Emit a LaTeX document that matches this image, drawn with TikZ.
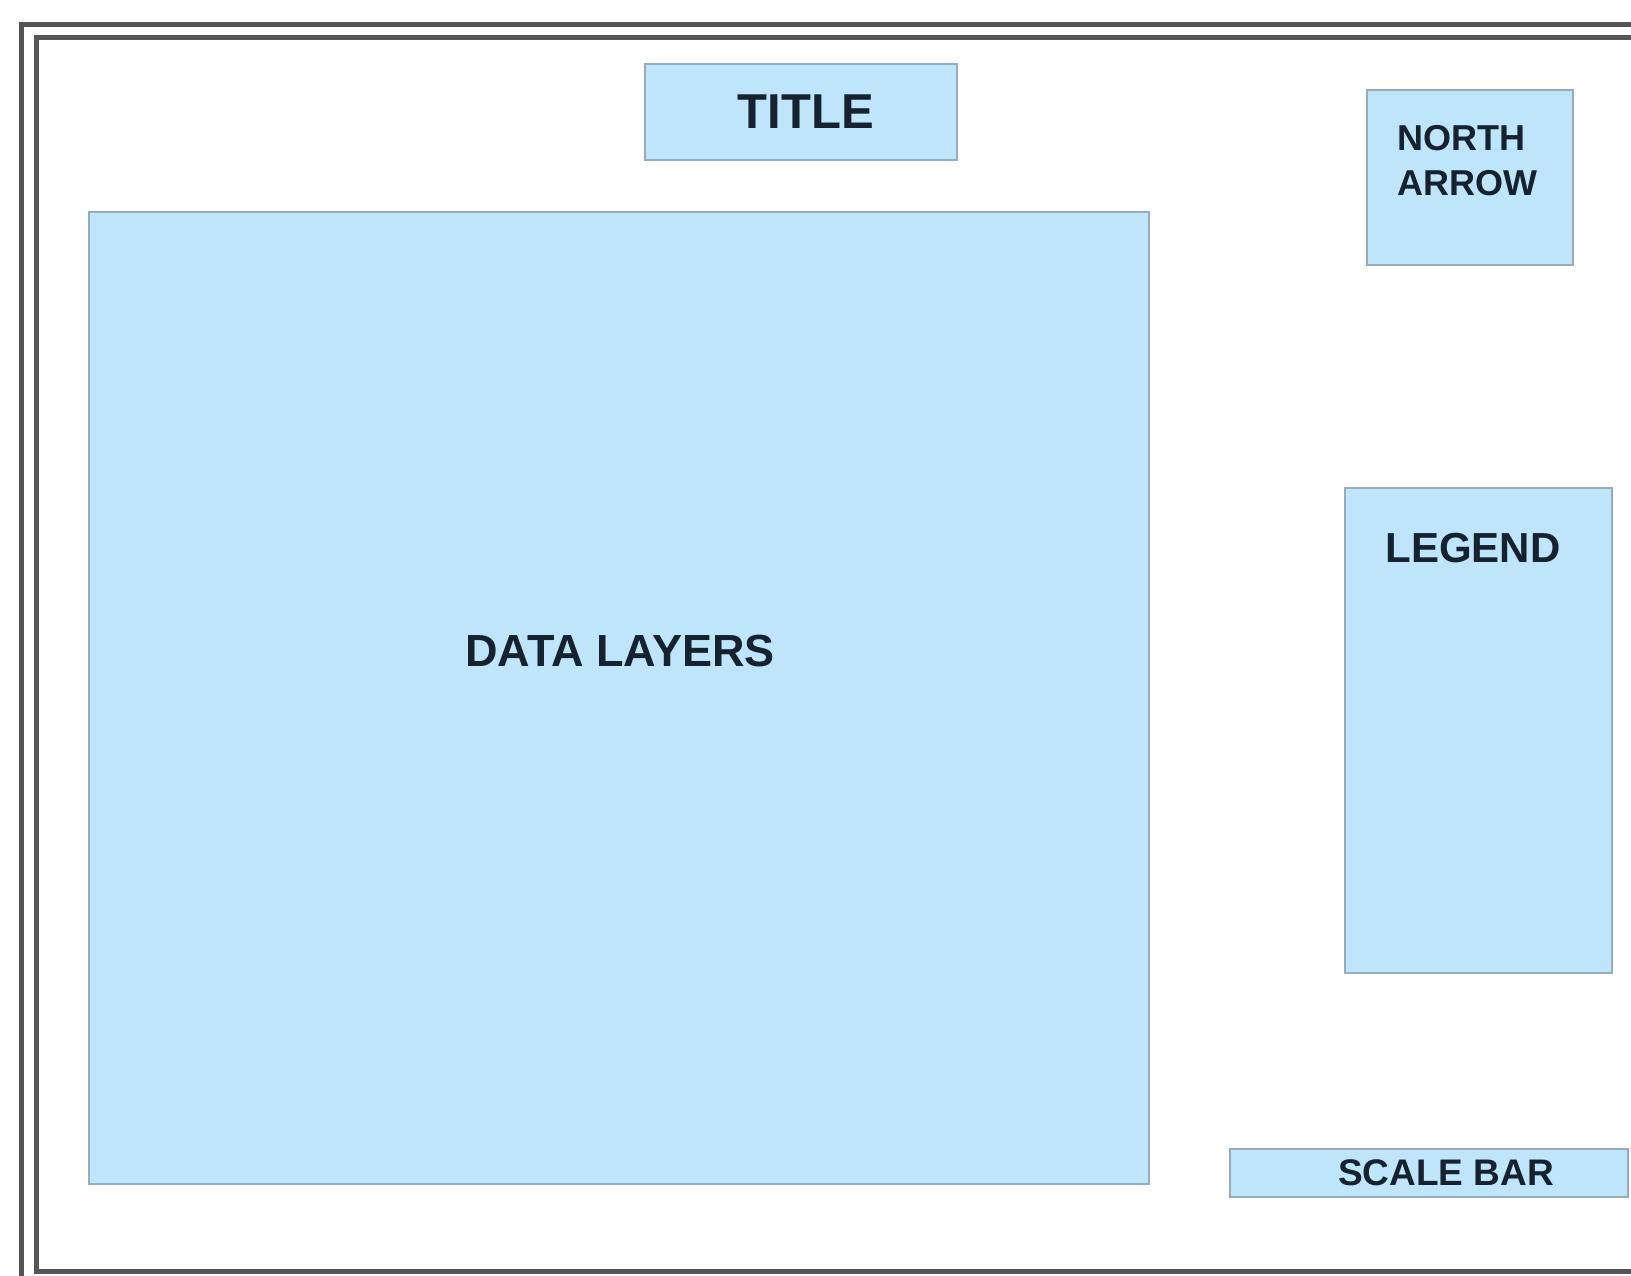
\documentclass[tikz,border=0pt]{standalone}
\usepackage{fontspec}
\setmainfont{Liberation Sans}
\definecolor{boxfill}{RGB}{190,229,250}
\definecolor{boxline}{RGB}{150,172,186}
\definecolor{txt}{RGB}{22,34,48}
\definecolor{frame}{RGB}{85,85,85}
\begin{document}
\begin{tikzpicture}[x=1pt,y=-1pt,
  areabox/.style={draw=boxline,fill=boxfill,line width=2.5pt,inner sep=0pt,anchor=center},
  lbl/.style={text=txt,font=\bfseries,inner sep=0pt,anchor=center}]
\useasboundingbox (0,0) rectangle (1631,1275);
\clip (0,0) rectangle (1631,1275);
\fill[white] (0,0) rectangle (1631,1275);
% double frame
\draw[frame,line width=5pt] (21,24) rectangle (1700,1320);
\draw[frame,line width=5pt] (36,37) rectangle (1690,1271);
% boxes
\node[areabox,minimum width=312,minimum height=96] (title) at (801,112) {};
\node[areabox,minimum width=206,minimum height=175] (north) at (1470,177.5) {};
\node[areabox,minimum width=1060,minimum height=972] (data) at (619,698) {};
\node[areabox,minimum width=267,minimum height=485] (legend) at (1478.5,730.5) {};
\node[areabox,minimum width=398,minimum height=48] (scale) at (1429,1173) {};
% labels
\node[lbl,font=\bfseries\fontsize{49}{49}\selectfont] (titletxt) at (806,112) {TITLE};
\node[lbl,align=left,font=\bfseries\fontsize{36}{45}\selectfont] (northtxt) at (1467,161) {NORTH\\ARROW};
\node[lbl,font=\bfseries\fontsize{45}{45}\selectfont] (datatxt) at (620,651) {DATA LAYERS};
\node[lbl,font=\bfseries\fontsize{42}{42}\selectfont] (legendtxt) at (1473,548) {LEGEND};
\node[lbl,font=\bfseries\fontsize{37}{37}\selectfont] (scaletxt) at (1446,1173) {SCALE BAR};
\end{tikzpicture}
\end{document}
